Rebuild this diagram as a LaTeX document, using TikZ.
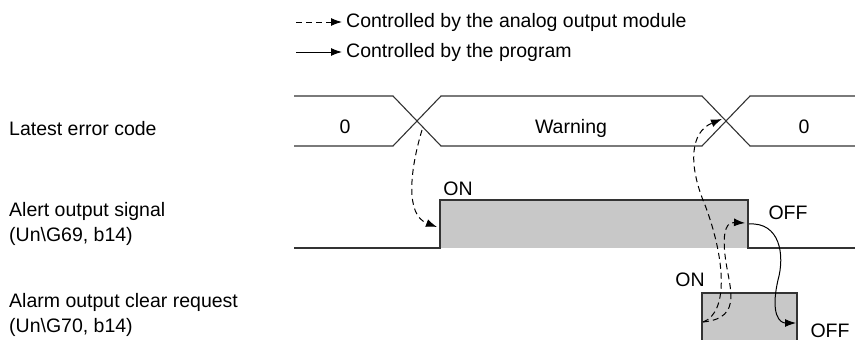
\documentclass[tikz,border=0pt]{standalone}
\usepackage{fontspec}
\setmainfont{Liberation Sans}
\usetikzlibrary{arrows.meta,positioning}
\definecolor{WaveLine}{HTML}{333333}
\definecolor{WaveFill}{HTML}{C8C8C8}

\begin{document}
\begin{tikzpicture}[x=1pt, y=-1pt, node distance=4pt,
  lbl/.style={inner sep=0pt, font=\fontsize{19.5}{25}\selectfont},
  wave/.style={draw=WaveLine, line width=1.4pt},
  bus/.style={draw=WaveLine, line width=1.1pt},
  autoarrow/.style={-{Latex[length=11pt,width=8pt]}, line width=1pt, dash pattern=on 6pt off 4pt},
  progarrow/.style={-{Latex[length=11pt,width=8pt]}, line width=1pt}]
  \useasboundingbox (0,0) rectangle (855,340);
  % legend
  \coordinate (lgDash) at (296,22);
  \coordinate (lgDashEnd) at (342,22);
  \coordinate (lgSolid) at (296,52);
  \coordinate (lgSolidEnd) at (342,52);
  \draw[autoarrow] (lgDash) -- (lgDashEnd);
  \draw[progarrow] (lgSolid) -- (lgSolidEnd);
  \node[lbl, right=of lgDashEnd] (lgAuto) {Controlled by the analog output module};
  \node[lbl, right=of lgSolidEnd] (lgProg) {Controlled by the program};
  % signal names
  \node[lbl, anchor=base west] (errLbl) at (9,135) {Latest error code};
  \node[lbl, anchor=north west, align=left] (alertLbl) at (9,202) {Alert output signal\\(Un\textbackslash G69, b14)};
  \node[lbl, anchor=north west, align=left] (clrLbl) at (9,293) {Alarm output clear request\\(Un\textbackslash G70, b14)};
  % latest error code
  \draw[bus] (294,96) -- (393,96) -- (441,146) -- (702,146) -- (750,96) -- (855,96);
  \draw[bus] (294,146) -- (393,146) -- (441,96) -- (702,96) -- (750,146) -- (855,146);
  \node[lbl, anchor=base] (errZero) at (345,133) {0};
  \node[lbl, anchor=base] (errWarn) at (571,133) {Warning};
  \node[lbl, anchor=base] (errZeroB) at (804,133) {0};
  % alert output signal
  \fill[WaveFill] (440,200) rectangle (748,248);
  \draw[wave] (294,248) -- (440,248) -- (440,200) -- (748,200) -- (748,248) -- (855,248);
  \node[lbl, anchor=base] (alertOn) at (458,195) {ON};
  \node[lbl, anchor=base] (alertOff) at (788,219) {OFF};
  % alarm output clear request
  \fill[WaveFill] (702,293) rectangle (797,341);
  \draw[wave] (702,341) -- (702,293) -- (797,293) -- (797,341);
  \node[lbl, anchor=base] (clrOnLbl) at (690,286) {ON};
  \node[lbl, anchor=base] (clrOffLbl) at (830,337) {OFF};
  % events
  \coordinate (errX1) at (422,130);
  \coordinate (errX2) at (722,119);
  \coordinate (alOn) at (437,227);
  \coordinate (alOff) at (745,223);
  \coordinate (alOffS) at (749,224);
  \coordinate (clrOn) at (703,322);
  \coordinate (clrOff) at (796,323);
  \draw[autoarrow] (errX1) .. controls (410,170) and (405,215) .. (alOn);
  \draw[autoarrow] (clrOn) .. controls (730,312) and (724,255) .. (705,205) .. controls (688,165) and (690,132) .. (errX2);
  \draw[autoarrow] (clrOn) .. controls (745,318) and (728,285) .. (725,255) .. controls (722,228) and (728,222) .. (alOff);
  \draw[progarrow] (alOffS) .. controls (780,222) and (785,255) .. (778,280) .. controls (770,315) and (780,323) .. (clrOff);
\end{tikzpicture}
\end{document}
